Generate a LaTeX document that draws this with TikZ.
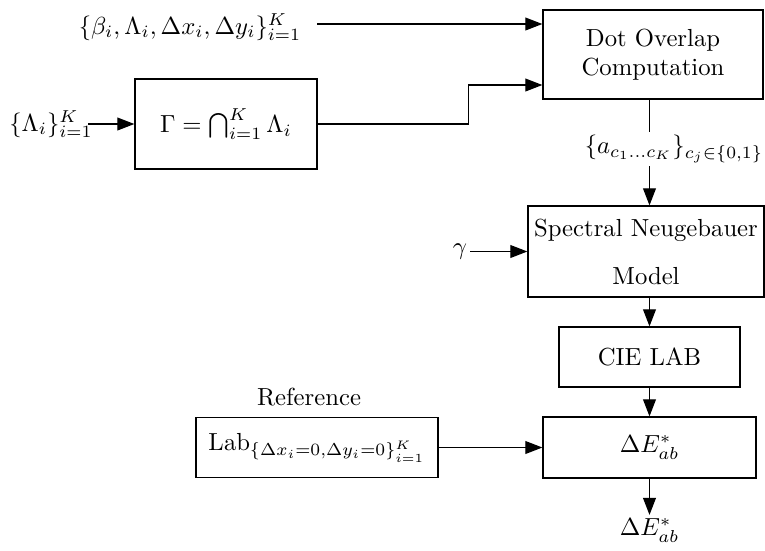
\documentclass[tikz,border=0pt]{standalone}
\usetikzlibrary{arrows.meta,calc}
\begin{document}
\begin{tikzpicture}[x=0.405pt,y=-0.405pt,
  line width=0.5pt,
  blk/.style={draw, inner sep=0pt, align=center},
  lbl/.style={inner sep=1pt},
  arr/.style={-{Triangle[length=6.9pt,width=5.2pt]}}]
\useasboundingbox (0,0) rectangle (765,550);
% blocks
\node[blk, minimum width={220*0.405pt}, minimum height={89*0.405pt}] (dot) at (653,54.5) {Dot Overlap\\Computation};
\node[blk, minimum width={182*0.405pt}, minimum height={90*0.405pt}] (gam) at (226,124) {$\Gamma=\bigcap_{i=1}^{K}\Lambda_i$};
\node[blk, minimum width={236*0.405pt}, minimum height={91*0.405pt}] (spec) at (646,251.5) {Spectral Neugebauer\\[7.4pt]Model};
\node[blk, minimum width={181*0.405pt}, minimum height={60*0.405pt}] (cie) at (649.5,357) {CIE LAB};
\node[blk, minimum width={213*0.405pt}, minimum height={61*0.405pt}] (dE) at (649.5,447.5) {$\Delta E^*_{ab}$};
\node[blk, minimum width={242*0.405pt}, minimum height={60*0.405pt}] (ref) at (317,447.5) {$\mathrm{Lab}_{\{\Delta x_i=0,\Delta y_i=0\}_{i=1}^{K}}$};
% labels
\node[lbl] (beta) at (190,27) {$\{\beta_i,\Lambda_i,\Delta x_i,\Delta y_i\}_{i=1}^{K}$};
\node[lbl] (lam) at (51,124) {$\{\Lambda_i\}_{i=1}^{K}$};
\node[lbl] (al) at (674,149) {$\{a_{c_1\ldots c_K}\}_{c_j\in\{0,1\}}$};
\node[lbl] (gl) at (460,251.5) {$\gamma$};
\node[lbl] (reft) at (309,397) {Reference};
\node[lbl] (out) at (649.5,530) {$\Delta E^*_{ab}$};
% connectors
\coordinate (b1) at (317,24);
\draw[arr] (b1) -- ($(dot.west)+(0,-30.5)$);
\draw[arr] ([xshift=-3pt]lam.east) -- (gam.west);
\draw[arr] (gam.east) -- ++(151,0) |- ($(dot.west)+(0,30.5)$);
\draw (dot.south -| cie.north) -- (al.north -| cie.north);
\draw[arr] (al.south -| cie.north) -- (spec.north -| cie.north);
\draw[arr] (gl.east) -- (spec.west |- gl.east);
\draw[arr] (spec.south -| cie.north) -- (cie.north);
\draw[arr] (cie.south) -- (dE.north);
\draw[arr] (ref.east) -- (dE.west |- ref.east);
\draw[arr] (dE.south) -- (out.north);
\end{tikzpicture}
\end{document}
